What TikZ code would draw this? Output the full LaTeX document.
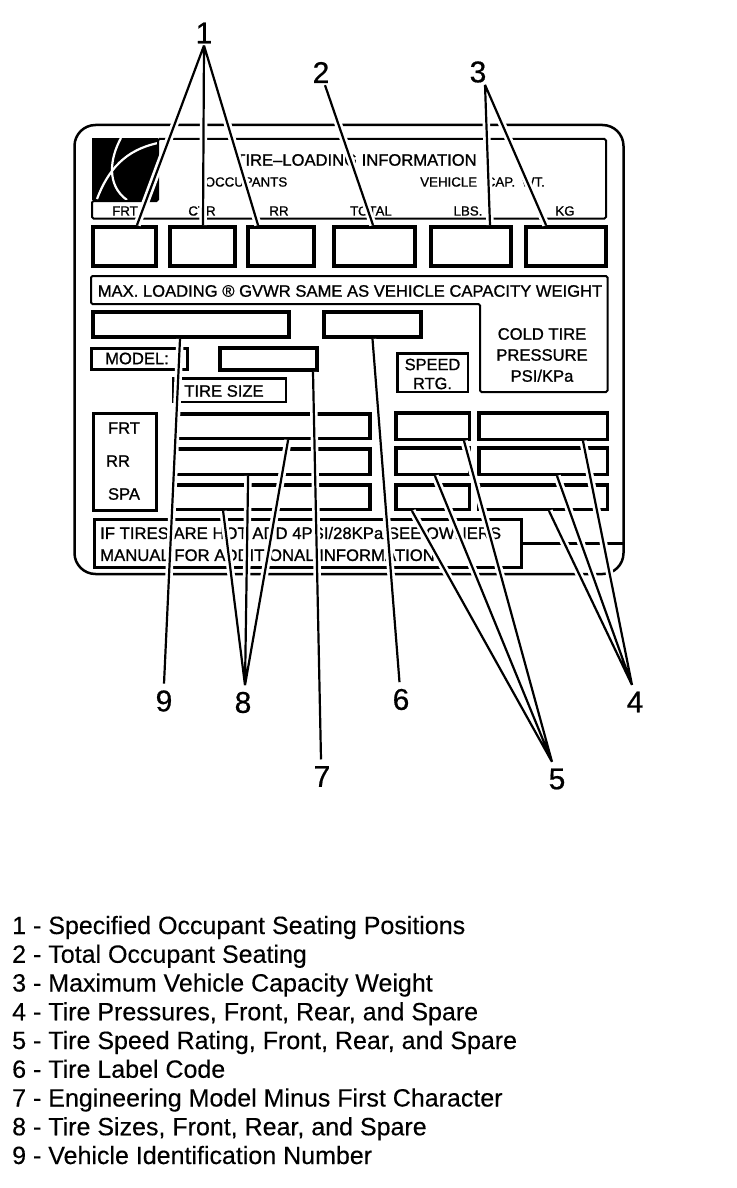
\documentclass[tikz,border=0pt]{standalone}
\usepackage{fontspec}
\setmainfont{Liberation Sans}
\newfontfamily\platefont[FakeBold=1]{Liberation Sans}
\newfontfamily\keyfont[FakeBold=0.25]{Liberation Sans}
\newfontfamily\numfont[FakeBold=0.6]{Liberation Sans}
\usetikzlibrary{positioning, calc}

\begin{document}
\begin{tikzpicture}[
  x=1pt, y=-1pt,
  heavybox/.style={draw, line width=4pt, inner sep=0pt},
  midbox/.style={draw, line width=3pt, inner sep=0pt},
  thinbox/.style={draw, line width=2.5pt, inner sep=0pt},
  rowbox/.style={draw, line width=3.5pt, inner sep=0pt},
  outline/.style={line width=2pt, rounded corners=1.5pt},
  plate/.style={font=\platefont\fontsize{13.3}{15}\selectfont, inner sep=0pt, align=center},
  platebig/.style={font=\platefont\fontsize{16.6}{21}\selectfont, inner sep=0pt, align=center},
  callout/.style={font=\numfont\fontsize{30}{32}\selectfont, inner sep=2pt},
  calloutlow/.style={callout, inner sep=6.5pt},
  legend/.style={font=\keyfont\fontsize{25}{28}\selectfont, inner sep=0pt, anchor=base west},
  halo/.style={draw=white, line width=7.5pt},
  ink/.style={draw=black, line width=2.2pt}
]
  \useasboundingbox (0,0) rectangle (736,1188);

  % label plate
  \node[draw, line width=2.5pt, rounded corners=21pt, minimum width=549pt, minimum height=449pt, inner sep=0pt] (frame) at (349,349.5) {};

  \node[fill=black, minimum width=66pt, minimum height=62pt, inner sep=0pt] (logo) at (125,169) {};
  \draw[white, line width=2.2pt] (121,138) .. controls (110,158) and (106,185) .. (127,200);
  \draw[white, line width=2.2pt] (97,199) .. controls (108,170) and (125,150) .. (158,143);

  \draw[outline] (92,201) -- (92,218.5) -- (606,218.5) -- (606,139) -- (158,139) -- (158,201) -- cycle;
  \node[platebig] (title) at (356,160) {TIRE–LOADING INFORMATION};
  \node[plate] (occupants) at (246,182) {OCCUPANTS};
  \node[plate] (capacity) at (482.5,182) {VEHICLE\hspace{5pt} CAP.\hspace{3pt} WT.};
  \node[plate] (frttext) at (125,211) {FRT};
  \node[plate] (ctrtext) at (202,211) {CTR};
  \node[plate] (rrtext) at (279,211) {RR};
  \node[plate] (totaltext) at (371,211) {TOTAL};
  \node[plate] (lbstext) at (468,211) {LBS.};
  \node[plate] (kgtext) at (565,211) {KG};

  \node[heavybox, minimum width=63pt, minimum height=39pt] (frtbox) at (124.5,246.5) {};
  \node[heavybox, minimum width=65pt, minimum height=39pt] (ctrbox) at (202.5,246.5) {};
  \node[heavybox, minimum width=66pt, minimum height=39pt] (rrbox) at (281,246.5) {};
  \node[heavybox, minimum width=81pt, minimum height=39pt] (totalbox) at (374.5,246.5) {};
  \node[heavybox, minimum width=80pt, minimum height=39pt] (lbsbox) at (471,246.5) {};
  \node[heavybox, minimum width=80pt, minimum height=39pt] (kgbox) at (566,246.5) {};

  \draw[outline] (91,276) -- (607.5,276) -- (607.5,392) -- (480,392) -- (480,304) -- (91,304) -- cycle;
  \node[platebig] (maxload) at (350,291) {MAX. LOADING ® GVWR SAME AS VEHICLE CAPACITY WEIGHT};
  \node[platebig] (coldtire) at (542,355) {COLD TIRE\\PRESSURE\\PSI/KPa};

  \node[heavybox, minimum width=196pt, minimum height=25pt] (vinbox) at (191,324.5) {};
  \node[heavybox, minimum width=97pt, minimum height=25pt] (codebox) at (372.5,324.5) {};
  \node[midbox, minimum width=96pt, minimum height=21pt] (modelbox) at (139.5,359) {};
  \node[platebig] (modeltext) at (137,358.5) {MODEL:};
  \node[heavybox, minimum width=97pt, minimum height=22pt] (engbox) at (268.5,359) {};
  \node[thinbox, minimum width=112.5pt, minimum height=23.5pt] (sizebox) at (229.5,390) {};
  \node[platebig] (sizetext) at (224,391) {TIRE SIZE};
  \node[thinbox, minimum width=70.5pt, minimum height=38.5pt] (speedbox) at (432.5,372.5) {};
  \node[platebig, font=\platefont\fontsize{16.4}{19}\selectfont] (speedtext) at (432.5,374) {SPEED\\RTG.};

  \node[midbox, minimum width=63pt, minimum height=97pt] (axlebox) at (125,462) {};
  \node[platebig] (frtaxle) at (124,428) {FRT};
  \node[platebig] (rraxle) at (118,461) {RR};
  \node[platebig] (spaaxle) at (124,494) {SPA};

  \node[rowbox, minimum width=194.25pt, minimum height=24.5pt] (frtsize) at (273.1,426) {};
  \node[rowbox, minimum width=196.25pt, minimum height=25.5pt] (rrsize) at (272.1,461.5) {};
  \node[rowbox, minimum width=196.25pt, minimum height=24.5pt] (spasize) at (272.1,497) {};
  \node[rowbox, minimum width=73.5pt, minimum height=26.5pt] (frtspeed) at (432.5,426) {};
  \node[rowbox, minimum width=73.5pt, minimum height=26.5pt] (rrspeed) at (432.5,461) {};
  \node[rowbox, minimum width=73.5pt, minimum height=24.5pt] (spaspeed) at (432.5,497) {};
  \node[rowbox, minimum width=128.5pt, minimum height=26.5pt] (frtpress) at (543,426) {};
  \node[rowbox, minimum width=128.5pt, minimum height=26.5pt] (rrpress) at (543,461) {};
  \node[rowbox, minimum width=128.5pt, minimum height=24.5pt] (spapress) at (543,497) {};

  \node[midbox, minimum width=427pt, minimum height=48pt] (notice) at (308,543.5) {};
  \node[platebig, align=left, anchor=west, font=\platefont\fontsize{16.7}{22}\selectfont] (noticetext) at (100,544) {IF TIRES ARE HOT ADD 4PSI/28KPa SEE OWNERS\\MANUAL FOR ADDITIONAL INFORMATION};
  \draw[line width=2.2pt] (notice.east) -- (notice.east -| frame.east);

  % callout numbers
  \node[callout] (num1) at (204,33) {1};
  \node[callout] (num2) at (321,72.5) {2};
  \node[callout] (num3) at (478,72) {3};
  \node[calloutlow] (num4) at (635,702) {4};
  \node[calloutlow] (num5) at (557,779) {5};
  \node[calloutlow] (num6) at (401,699.5) {6};
  \node[calloutlow] (num7) at (322,776.5) {7};
  \node[calloutlow] (num8) at (243,702.5) {8};
  \node[calloutlow] (num9) at (164,701) {9};

  % leaders, white pass first so the ink stays whole
  \foreach \pen in {halo, ink} {
    \draw[\pen] (num1.south) -- ([xshift=12.5pt]frtbox.north) (num1.south) -- ([xshift=.5pt]ctrbox.north) (num1.south) -- ([xshift=-23pt]rrbox.north);
    \draw[\pen] ([xshift=4pt]num2.south) -- ([xshift=-1.5pt]totalbox.north);
    \draw[\pen] ([xshift=7pt]num3.south) -- ([xshift=19pt]lbsbox.north) ([xshift=7pt]num3.south) -- ([xshift=-20pt]kgbox.north);
    \draw[\pen] ([xshift=-3pt]num4.north) -- ([xshift=40pt]frtpress.south) ([xshift=-3pt]num4.north) -- ([xshift=14pt]rrpress.south) ([xshift=-3pt]num4.north) -- ([xshift=6pt]spapress.south);
    \draw[\pen] ([xshift=-5pt]num5.north) -- ([xshift=31.5pt]frtspeed.south) ([xshift=-5pt]num5.north) -- ([xshift=2.5pt]rrspeed.south) ([xshift=-5pt]num5.north) -- ([xshift=-20.5pt]spaspeed.south);
    \draw[\pen] ([xshift=-1.5pt]num6.north) -- (codebox.south);
    \draw[\pen] ([xshift=-1pt]num7.north) -- ([xshift=44.5pt]engbox.south);
    \draw[\pen] ([xshift=2pt]num8.north) -- ([xshift=15pt]frtsize.south) ([xshift=2pt]num8.north) -- ([xshift=-24pt]rrsize.south) ([xshift=2pt]num8.north) -- ([xshift=-49pt]spasize.south);
    \draw[\pen] (num9.north) -- ([xshift=-11pt]vinbox.south);
  }

  % key
  \foreach \i/\keytext in {1/Specified Occupant Seating Positions, 2/Total Occupant Seating, 3/Maximum Vehicle Capacity Weight, 4/{Tire Pressures, Front, Rear, and Spare}, 5/{Tire Speed Rating, Front, Rear, and Spare}, 6/Tire Label Code, 7/Engineering Model Minus First Character, 8/{Tire Sizes, Front, Rear, and Spare}, 9/Vehicle Identification Number}
    \node[legend] (key\i) at (12,934+28.75*\i-28.75) {\i{} - \keytext};
\end{tikzpicture}
\end{document}
